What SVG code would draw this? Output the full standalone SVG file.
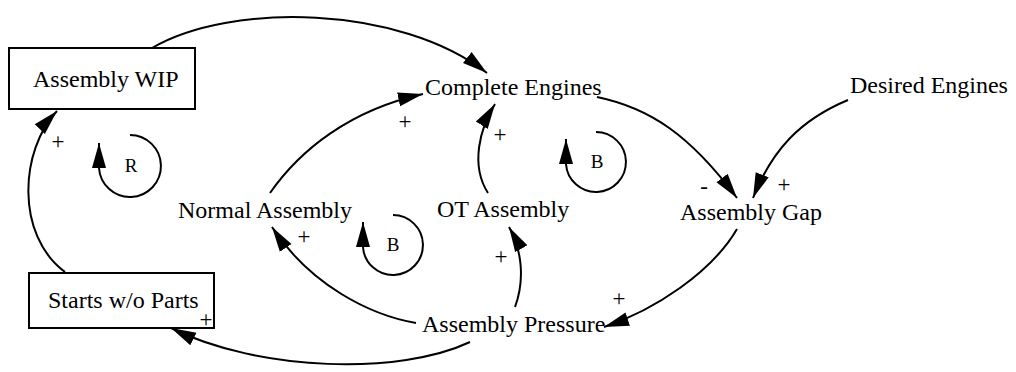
<svg xmlns="http://www.w3.org/2000/svg" width="1016" height="372" viewBox="0 0 1016 372">
<style>
text{font-family:"Liberation Serif","Times New Roman",serif;fill:#000}
.lbl{font-size:24px}
.sgn{font-size:23px;text-anchor:middle}
.loop{font-size:19px;text-anchor:middle}
.box{fill:none;stroke:#000;stroke-width:2}
.link{fill:none;stroke:#000;stroke-width:2;marker-end:url(#ah)}
</style>
<defs>
<marker id="ah" markerUnits="userSpaceOnUse" markerWidth="27" markerHeight="16" refX="25" refY="7" orient="auto" viewBox="0 0 27 14">
<path d="M0,0 L25,7 L0,14 Z" fill="#000"/>
</marker>
</defs>
<rect width="1016" height="372" fill="#fff"/>
<g id="connectors">
<path class="link" d="M152,48 C230,2 400,5 487,73"/>
<path class="link" d="M270,193 C300,150 350,110 423,94"/>
<path class="link" d="M488,193 C470,165 480,128 495,104"/>
<path class="link" d="M597,97 C650,108 690,135 737,198"/>
<path class="link" d="M848,100 C800,120 772,150 753,198"/>
<path class="link" d="M737,229 C712,272 655,310 604,327"/>
<path class="link" d="M515,307 C525,280 522,250 509,227"/>
<path class="link" d="M416,323 C370,315 310,285 272,227"/>
<path class="link" d="M470,342 C400,375 260,372 171,328"/>
<path class="link" d="M65,272 C15,235 20,150 57,111"/>
</g>
<g id="polarities">
<text class="sgn" x="58" y="149">+</text>
<text class="sgn" x="405" y="129">+</text>
<text class="sgn" x="500" y="142">+</text>
<text class="sgn" x="784" y="192">+</text>
<text class="sgn" x="704" y="194">-</text>
<text class="sgn" x="619" y="306">+</text>
<text class="sgn" x="501" y="264">+</text>
<text class="sgn" x="304" y="244">+</text>
<text class="sgn" x="206" y="327">+</text>
</g>
<g id="loop-R">
<path class="link" d="M130,135 A31,31 0 1 1 99,168 L99,143"/>
<text class="loop" x="131" y="172">R</text>
</g>
<g id="loop-B1">
<path class="link" d="M596,132 A30,30 0 1 1 566,164 L566,139"/>
<text class="loop" x="597" y="168">B</text>
</g>
<g id="loop-B2">
<path class="link" d="M393,215 A30,30 0 1 1 363,247 L363,222"/>
<text class="loop" x="393" y="251">B</text>
</g>
<g id="assembly-wip">
<rect class="box" x="9" y="48" width="186" height="61"/>
<text class="lbl" x="33" y="87">Assembly WIP</text>
</g>
<g id="complete-engines"><text class="lbl" x="425" y="95">Complete Engines</text></g>
<g id="desired-engines"><text class="lbl" x="850" y="93">Desired Engines</text></g>
<g id="normal-assembly"><text class="lbl" x="178" y="218">Normal Assembly</text></g>
<g id="ot-assembly"><text class="lbl" x="437" y="217">OT Assembly</text></g>
<g id="assembly-gap"><text class="lbl" x="680" y="220">Assembly Gap</text></g>
<g id="assembly-pressure"><text class="lbl" x="422" y="332">Assembly Pressure</text></g>
<g id="starts-wo-parts">
<rect class="box" x="29" y="273" width="185" height="55"/>
<text class="lbl" x="48" y="308">Starts w/o Parts</text>
</g>
</svg>
